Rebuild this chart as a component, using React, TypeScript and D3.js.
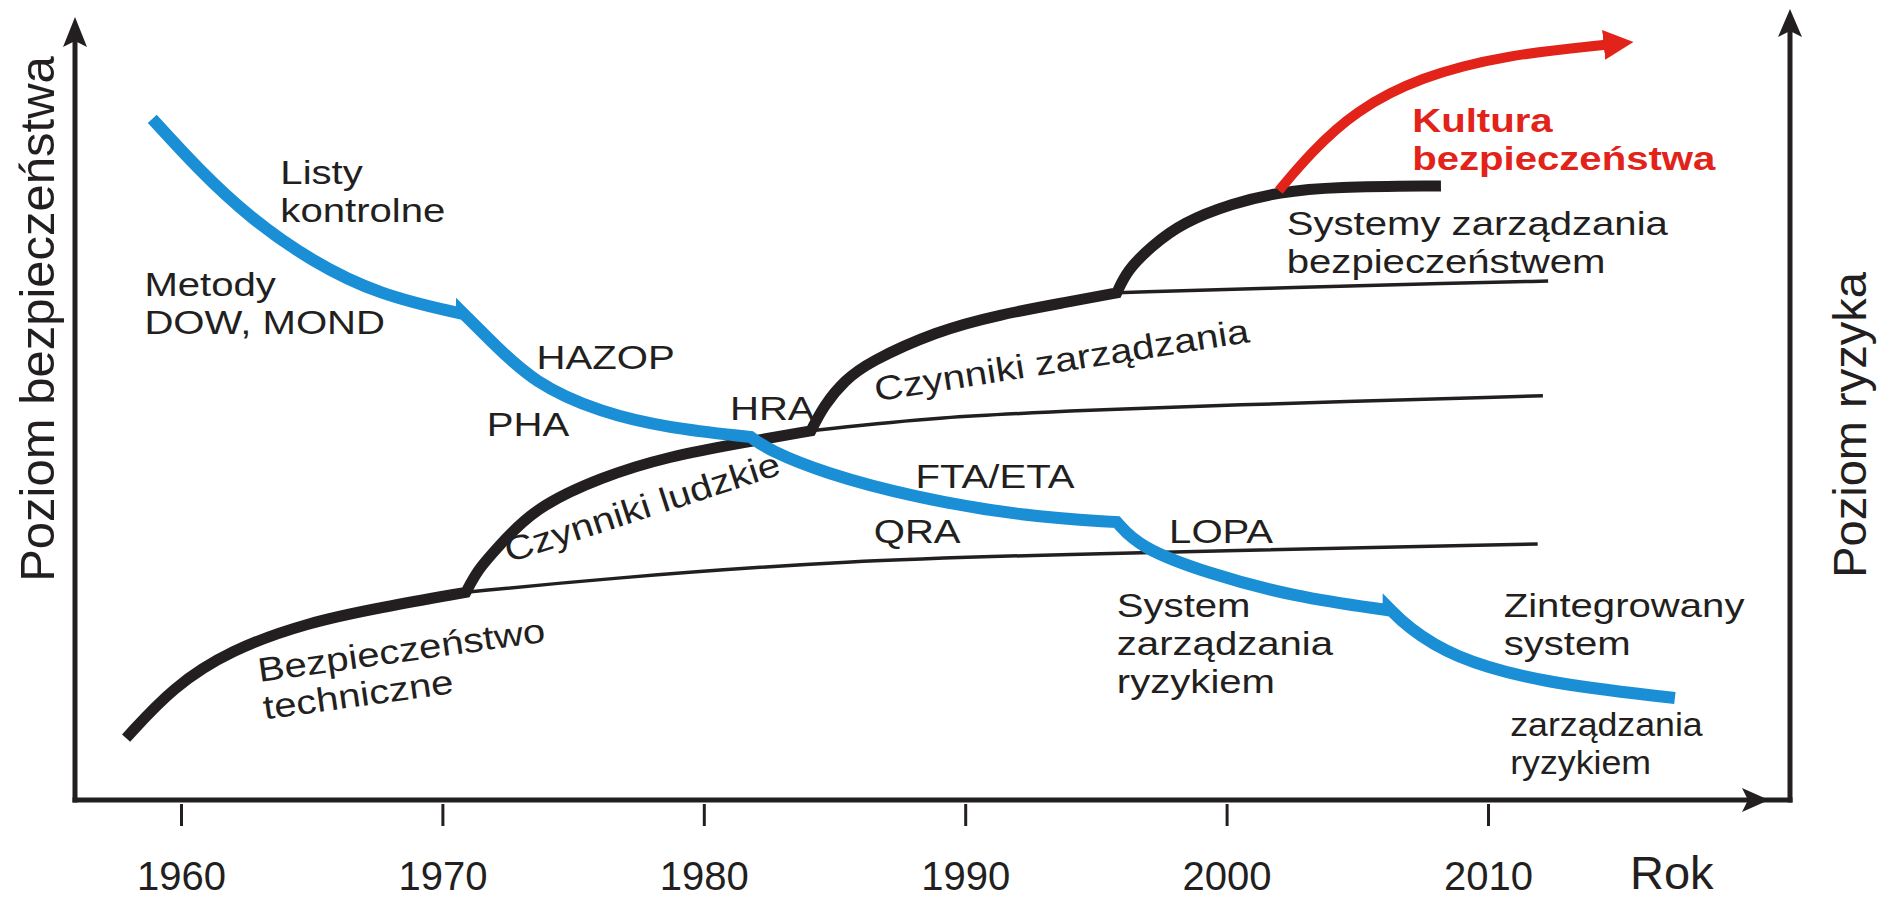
import React, { useRef, useEffect } from 'react';
import * as d3 from 'd3';

type Pt = [number, number]; // [year, level]

const yearTicks = [1960, 1970, 1980, 1990, 2000, 2010];

// blue curve - risk assessment methods, one array per step
const riskMethods: Pt[][] = [
  [[1958.9, 87.2], [1960.7, 80.6], [1962.6, 74.6], [1965.0, 68.9], [1967.6, 64.6], [1970.75, 62.2]],
  [[1970.75, 62.4], [1971.8, 58.9], [1973.5, 53.3], [1976.1, 49.5], [1978.6, 47.6], [1981.8, 46.4]],
  [[1981.8, 46.4], [1982.5, 44.7], [1984.6, 41.8], [1988.0, 38.7], [1992.3, 36.2], [1995.8, 35.5]],
  [[1995.8, 35.5], [1996.65, 32.3], [1999.2, 29.0], [2002.6, 25.9], [2006.2, 24.2]],
  [[2006.2, 24.5], [2006.9, 22.1], [2008.6, 18.2], [2012.0, 14.9], [2017.15, 12.95]],
];

// thick black curve - safety level, one array per stage
const safetyLevel: Pt[][] = [
  [[1957.9, 7.8], [1959.7, 14.4], [1961.9, 19.1], [1964.8, 22.6], [1967.7, 24.6], [1970.9, 26.5]],
  [[1970.9, 26.5], [1971.35, 29.4], [1972.1, 32.2], [1973.5, 37.3], [1976.1, 41.3], [1978.6, 43.9], [1981.7, 45.8], [1984.1, 47.2]],
  [[1984.1, 47.2], [1984.6, 50.5], [1985.4, 53.7], [1986.3, 56.0], [1988.9, 60.0], [1991.3, 62.1], [1993.9, 63.7], [1995.8, 64.9]],
  [[1995.8, 64.9], [1996.2, 67.8], [1997.1, 70.8], [1998.3, 73.9], [2000.25, 76.4], [2002.0, 77.8], [2004.1, 78.5], [2008.2, 78.6]],
];

// thin black lines - level reached without the next stage
const plateaus: Pt[][] = [
  [[1970.9, 26.5], [1976.0, 28.2], [1985.4, 30.6], [1995.2, 31.5], [2011.9, 32.7]],
  [[1984.1, 47.2], [1988.9, 49.0], [1995.2, 49.9], [1999.0, 50.4], [2012.1, 51.7]],
  [[1995.8, 64.9], [2002.8, 65.6], [2008.55, 66.15], [2012.3, 66.4]],
];

// red arrow - safety culture
const safetyCulture: Pt[] = [[2002.0, 78.0], [2003.2, 82.8], [2004.9, 88.2], [2007.4, 92.6], [2010.7, 95.4], [2014.5, 96.7]];

const annotations = [
  { lines: ['Listy', 'kontrolne'], year: 1963.8, level: 78.9, angle: 0 },
  { lines: ['Metody', 'DOW, MOND'], year: 1958.6, level: 64.5, angle: 0 },
  { lines: ['HAZOP'], year: 1973.6, level: 55.1, angle: 0 },
  { lines: ['PHA'], year: 1971.7, level: 46.5, angle: 0 },
  { lines: ['HRA'], year: 1981.0, level: 48.6, angle: 0 },
  { lines: ['FTA/ETA'], year: 1988.1, level: 39.9, angle: 0 },
  { lines: ['QRA'], year: 1986.5, level: 32.8, angle: 0 },
  { lines: ['LOPA'], year: 1997.8, level: 32.8, angle: 0 },
  { lines: ['Czynniki ludzkie'], year: 1972.55, level: 30.3, angle: -18 },
  { lines: ['Czynniki zarządzania'], year: 1986.6, level: 51.0, angle: -9 },
  { lines: ['Bezpieczeństwo', 'techniczne'], year: 1963.0, level: 15.0, angle: -8 },
  { lines: ['System', 'zarządzania', 'ryzykiem'], year: 1995.8, level: 23.3, angle: 0 },
  { lines: ['Zintegrowany', 'system'], year: 2010.6, level: 23.3, angle: 0 },
  { lines: ['zarządzania', 'ryzykiem'], year: 2010.85, level: 8.1, angle: 0 },
  { lines: ['Systemy zarządzania', 'bezpieczeństwem'], year: 2002.3, level: 72.3, angle: 0 },
  { lines: ['Kultura', 'bezpieczeństwa'], year: 2007.1, level: 85.5, angle: 0, red: true },
];

const BLACK = '#231f20';
const BLUE = '#1b8fd6';
const RED = '#e2231a';
const FONT = '"Liberation Sans", Arial, sans-serif';

const App = () => {
  const svgRef = useRef<SVGSVGElement>(null);

  useEffect(() => {
    const svg = d3.select(svgRef.current);
    svg.selectAll('*').remove();

    const x = d3.scaleLinear().domain([1960, 2010]).range([181, 1488]);
    const y = d3.scaleLinear().domain([0, 100]).range([799, 19]);
    const line = d3.line<Pt>().x(d => x(d[0])).y(d => y(d[1])).curve(d3.curveBasis);
    // segments joined into one path so the steps keep sharp corners
    const joined = (segs: Pt[][]) =>
      segs.map((s, i) => { const d = line(s) as string; return i ? 'L' + d.slice(1) : d; }).join('');

    const frameL = 75;
    const frameR = 1790;
    const base = y(0) + 1;

    // axes frame
    const axes = svg.append('g').attr('stroke', BLACK).attr('stroke-width', 5);
    axes.append('line').attr('x1', frameL).attr('y1', base + 2.5).attr('x2', frameL).attr('y2', 40);
    axes.append('line').attr('x1', frameR).attr('y1', base + 2.5).attr('x2', frameR).attr('y2', 30);
    axes.append('line').attr('x1', frameL - 2.5).attr('y1', base).attr('x2', frameR + 2.5).attr('y2', base);

    const head = (pts: number[][]) =>
      svg.append('polygon').attr('points', pts.map(p => p.join(',')).join(' ')).attr('fill', BLACK);
    head([[frameL, 17], [frameL - 12, 47], [frameL, 41], [frameL + 12, 47]]);
    head([[frameR, 9], [frameR - 12, 37], [frameR, 31], [frameR + 12, 37]]);
    head([[1769, base], [1742, base - 12], [1748, base], [1742, base + 12]]);

    // year ticks
    const xAxis = svg.append('g')
      .attr('transform', `translate(0,${base + 4})`)
      .call(d3.axisBottom(x).tickValues(yearTicks).tickFormat(d3.format('d')).tickSize(22).tickPadding(36));
    xAxis.select('.domain').remove();
    xAxis.selectAll('line').attr('stroke', BLACK).attr('stroke-width', 3);
    xAxis.selectAll('text').attr('fill', BLACK).attr('font-size', 40).attr('font-family', FONT);

    svg.append('text').attr('x', 1630).attr('y', 889).text('Rok')
      .attr('font-size', 47).attr('font-family', FONT).attr('fill', BLACK);

    svg.append('text').attr('transform', 'translate(54,319) rotate(-90)').attr('text-anchor', 'middle')
      .text('Poziom bezpieczeństwa').attr('font-size', 49).attr('font-family', FONT).attr('fill', BLACK);
    svg.append('text').attr('transform', 'translate(1866,425) rotate(-90)').attr('text-anchor', 'middle')
      .text('Poziom ryzyka').attr('font-size', 47).attr('font-family', FONT).attr('fill', BLACK);

    // thin plateau lines
    svg.append('g').selectAll('path').data(plateaus).join('path')
      .attr('d', d => line(d))
      .attr('fill', 'none').attr('stroke', BLACK).attr('stroke-width', 3.5);

    // safety level
    svg.append('path').attr('d', joined(safetyLevel))
      .attr('fill', 'none').attr('stroke', BLACK).attr('stroke-width', 11)
      .attr('stroke-linejoin', 'miter').attr('stroke-miterlimit', 6);

    // risk methods
    svg.append('path').attr('d', joined(riskMethods))
      .attr('fill', 'none').attr('stroke', BLUE).attr('stroke-width', 12)
      .attr('stroke-linejoin', 'miter').attr('stroke-miterlimit', 6);

    // safety culture arrow
    svg.append('defs').append('marker')
      .attr('id', 'redHead').attr('markerUnits', 'userSpaceOnUse')
      .attr('markerWidth', 40).attr('markerHeight', 40)
      .attr('refX', 2).attr('refY', 15).attr('orient', 'auto')
      .append('path').attr('d', 'M0,0 L30,15 L0,30 Z').attr('fill', RED);
    svg.append('path').attr('d', line(safetyCulture))
      .attr('fill', 'none').attr('stroke', RED).attr('stroke-width', 10)
      .attr('marker-end', 'url(#redHead)');

    // labels
    const labels = svg.append('g').attr('font-family', FONT).attr('font-size', 34);
    annotations.forEach(a => {
      // the last note in the corner is set narrower in the original
      const sx = a.lines[0] === 'zarządzania' ? 1.05 : 1.18;
      const t = labels.append('text')
        .attr('transform', `translate(${x(a.year)},${y(a.level)}) rotate(${a.angle}) scale(${sx},1)`)
        .attr('fill', a.red ? RED : BLACK)
        .attr('font-weight', a.red ? 'bold' : 'normal');
      a.lines.forEach((s, i) => {
        t.append('tspan').attr('x', 0).attr('y', i * 38).text(s);
      });
    });
  }, []);

  return (
    <svg ref={svgRef} width={1888} height={899}
      style={{ position: 'absolute', left: 0, top: 0, background: '#fff' }} />
  );
};

export default App;
